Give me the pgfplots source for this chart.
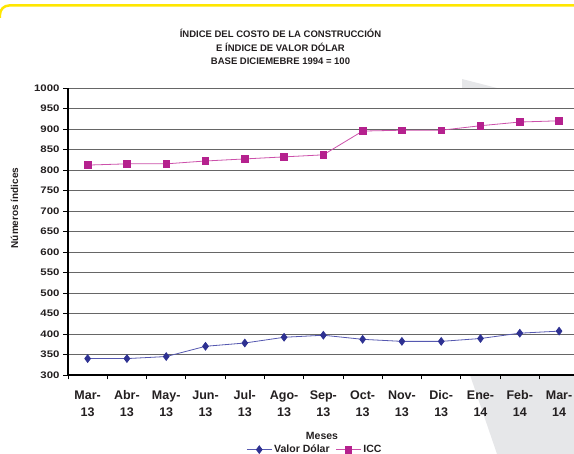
\documentclass[border=0pt]{standalone}
\usepackage{fontspec}
\setmainfont{Liberation Sans}
\newfontfamily\widefont[FakeStretch=1.2]{Liberation Sans}
\usepackage{pgfplots}
\pgfplotsset{compat=1.18}
\definecolor{dolar}{HTML}{2E3192}
\definecolor{dolarline}{HTML}{5558B0}
\definecolor{icc}{HTML}{B5218E}
\definecolor{iccline}{HTML}{CC50AA}
\definecolor{yel}{HTML}{FFE600}
\definecolor{bg}{HTML}{E6E7E9}
\definecolor{txt}{HTML}{231F20}
\begin{document}
\begin{tikzpicture}
\useasboundingbox (-68pt,375pt) rectangle (506pt,-79pt);
\fill[bg] (394pt,296pt) -- (429pt,287pt) -- (506pt,267pt) -- (506pt,-79pt) -- (429pt,-79pt) -- (402pt,0pt) -- cycle;
\draw[yel, line width=2.5pt, rounded corners=9pt] (-68pt,357pt) |- (506pt,369.5pt);
\begin{axis}[
  scale only axis, width=506pt, height=287pt,
  xmin=-0.5, xmax=12.38, ymin=300, ymax=1000,
  axis lines*=left,
  axis line style={black, line width=1.2pt},
  axis background/.style={fill=white},
  ytick={300,350,...,1000},
  yticklabel style={/pgf/number format/1000 sep={}},
  xtick={-0.5,0.5,...,11.5}, xticklabels={},
  extra x ticks={0,1,...,12},
  extra x tick labels={{Mar-\\13},{Abr-\\13},{May-\\13},{Jun-\\13},{Jul-\\13},{Ago-\\13},{Sep-\\13},{Oct-\\13},{Nov-\\13},{Dic-\\13},{Ene-\\14},{Feb-\\14},{Mar-\\14}},
  extra x tick style={major tick length=0pt, xmajorgrids=false},
  tick align=outside, major tick length=4.5pt,
  tick style={black, line width=0.8pt},
  ymajorgrids=true, xmajorgrids=false,
  grid style={black!60, line width=0.9pt},
  /pgf/number format/assume math mode=true,
  yticklabel style={font=\widefont\fontsize{9.5}{11}\selectfont\bfseries, text=txt, xshift=-0.5pt},
  xticklabel style={font=\fontsize{12.5}{17}\selectfont\bfseries, text=txt, align=center, yshift=-12pt},
  xlabel={Meses},
  xlabel style={at={(axis description cs:0.502,-0.213)}, anchor=center, font=\fontsize{10.5}{12}\selectfont\bfseries, text=txt},
  ylabel={Números índices},
  ylabel style={at={(axis description cs:-0.1057,0.582)}, anchor=center, font=\fontsize{10}{12}\selectfont\bfseries, text=txt},
  title={ÍNDICE DEL COSTO DE LA CONSTRUCCIÓN\\E ÍNDICE DE VALOR DÓLAR\\BASE DICIEMEBRE 1994 = 100},
  title style={at={(axis description cs:0.42,1.122)}, anchor=center, align=center, font=\fontsize{9.5}{13.3}\selectfont\bfseries, text=txt},
  legend columns=2,
  legend style={at={(axis description cs:0.488,-0.26)}, anchor=center, draw=none, fill=none,
    font=\fontsize{10.5}{12}\selectfont\bfseries, text=txt,
    /tikz/every even column/.append style={column sep=4pt}},
  legend image code/.code={\draw[mark repeat=2,mark phase=2] plot coordinates {(0pt,0pt)(12.5pt,0pt)(25pt,0pt)};},
]
\addplot[color=dolarline, line width=0.8pt, mark=diamond*, mark size=3.8pt, mark options={fill=dolar, draw=dolar}]
 coordinates {(0,340)(1,340)(2,345)(3,370)(4,378)(5,392)(6,397)(7,387)(8,382)(9,382)(10,389)(11,402)(12,407)};
\addlegendentry{Valor Dólar}
\addplot[color=iccline, line width=0.8pt, mark=square*, mark size=3.3pt, mark options={fill=icc, draw=icc}]
 coordinates {(0,812)(1,815)(2,815)(3,822)(4,827)(5,832)(6,837)(7,895)(8,897)(9,897)(10,908)(11,917)(12,920)};
\addlegendentry{ICC}
\end{axis}
\end{tikzpicture}
\end{document}
